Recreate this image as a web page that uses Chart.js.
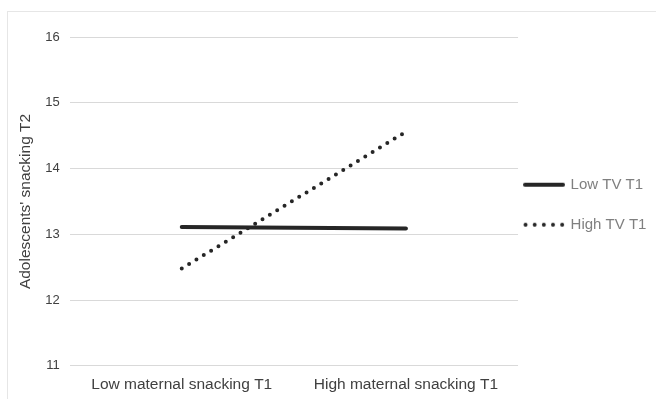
<!DOCTYPE html>
<html>
<head>
<meta charset="utf-8">
<script src="https://cdn.jsdelivr.net/npm/chart.js@4"></script>
<style>
  html, body { margin: 0; padding: 0; background: #fff; }
  #wrap { position: relative; width: 656px; height: 399px; overflow: hidden; }
  #frame { position: absolute; left: 7px; top: 11px; width: 700px; height: 450px; border: 1px solid #e6e6e6; }
  #chart { position: absolute; left: 0; top: 0; }
</style>
</head>
<body>
<div id="wrap">
  <div id="frame"></div>
  <canvas id="chart" width="656" height="399"></canvas>
</div>
<script>
const categories = ['Low maternal snacking T1', 'High maternal snacking T1'];
const lowTV = [13.11, 13.09];
const highTV = [12.48, 14.56];
const seriesNames = ['Low TV T1', 'High TV T1'];
const yTicks = [11, 12, 13, 14, 15, 16];

const font = 'Liberation Sans, Arial, sans-serif';
const lineColor = '#262626';

// little legend swatches (solid bar and five dots)
function swatch(dotted) {
    const c = document.createElement('canvas');
    c.width = 42;
    c.height = 6;
    const g = c.getContext('2d');
    g.fillStyle = lineColor;
    g.strokeStyle = lineColor;
    if (dotted) {
        for (let i = 0; i < 5; i++) {
            g.beginPath();
            g.arc(2.5 + i * 9.15, 3, 2, 0, Math.PI * 2);
            g.fill();
        }
    } else {
        g.lineWidth = 4;
        g.lineCap = 'round';
        g.beginPath();
        g.moveTo(2, 3);
        g.lineTo(40, 3);
        g.stroke();
    }
    return c;
}

// push the legend a little left/up so it sits like the original
const legendNudge = {
    id: 'legendNudge',
    afterLayout(chart) {
        const lg = chart.legend;
        lg.left -= 18;
        lg.right -= 18;
        lg.top -= 16;
        lg.bottom -= 16;
    }
};

const ctx = document.getElementById('chart').getContext('2d');

const chart = new Chart(ctx, {
    type: 'line',
    data: {
        labels: categories,
        datasets: [
            {
                label: seriesNames[0],
                data: lowTV,
                borderColor: lineColor,
                backgroundColor: lineColor,
                borderWidth: 4,
                borderCapStyle: 'round',
                pointRadius: 0,
                pointStyle: swatch(false),
                fill: false
            },
            {
                label: seriesNames[1],
                data: highTV,
                borderColor: lineColor,
                backgroundColor: lineColor,
                borderWidth: 4,
                borderDash: [0, 8.6],
                borderCapStyle: 'round',
                pointRadius: 0,
                pointStyle: swatch(true),
                fill: false
            }
        ]
    },
    options: {
        responsive: false,
        animation: false,
        layout: {
            padding: { left: 12.6, top: 37, right: -18.4, bottom: -5.5 }
        },
        plugins: {
            tooltip: { enabled: false },
            legend: {
                position: 'right',
                labels: {
                    usePointStyle: true,
                    pointStyleWidth: 38,
                    padding: 25,
                    color: '#7f7f7f',
                    font: { family: font, size: 15 }
                }
            }
        },
        scales: {
            x: {
                offset: true,
                grid: { display: false, drawTicks: false },
                border: { display: false },
                ticks: {
                    padding: 10,
                    color: '#404040',
                    font: { family: font, size: 15.5 }
                }
            },
            y: {
                min: yTicks[0],
                max: yTicks[yTicks.length - 1],
                afterBuildTicks(scale) {
                    scale.ticks = yTicks.map(v => ({ value: v }));
                },
                grid: { color: '#d9d9d9', lineWidth: 1, drawTicks: false },
                border: { display: false },
                ticks: {
                    padding: 10,
                    color: '#404040',
                    font: { family: font, size: 13 }
                },
                title: {
                    display: true,
                    text: "Adolescents' snacking T2",
                    color: '#404040',
                    padding: { top: 4, bottom: 0 },
                    font: { family: font, size: 15.5 }
                }
            }
        }
    },
    plugins: [legendNudge]
});
</script>
</body>
</html>
